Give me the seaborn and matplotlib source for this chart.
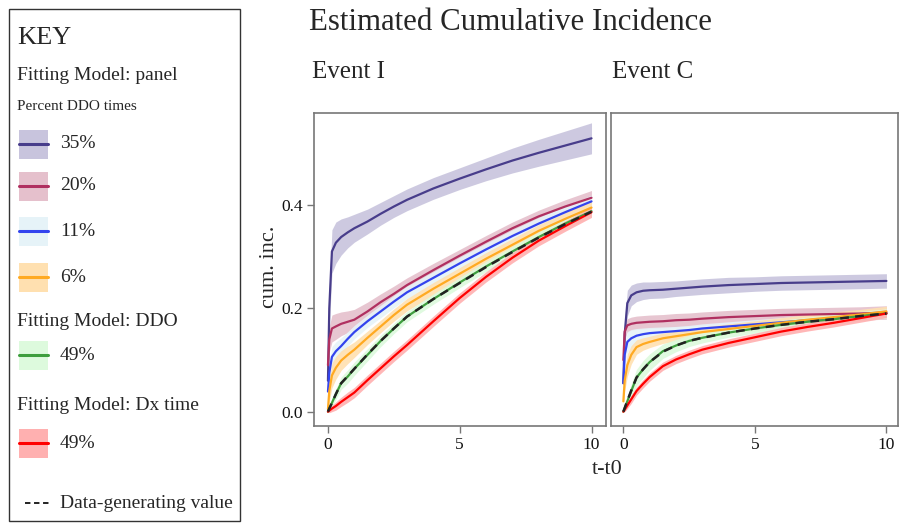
import numpy as np
import pandas as pd
import matplotlib
matplotlib.use("Agg")
import matplotlib.pyplot as plt
import seaborn as sns
from matplotlib.patches import Rectangle

# ---------------- data ----------------
t = [0, 0.05, 0.15, 0.3, 0.5, 0.75, 1, 1.5, 2, 2.5, 3, 4, 5, 6, 7, 8, 9, 10]

series_names = ["35%", "20%", "11%", "6%", "DDO 49%", "Dx 49%"]

# Event I
I_p35 = [0.06, 0.20, 0.31, 0.327, 0.338, 0.347, 0.355, 0.368, 0.383, 0.397, 0.41, 0.432, 0.451, 0.469, 0.486, 0.501, 0.515, 0.529]
I_p35_hw = [0.03, 0.04, 0.042, 0.04, 0.035, 0.03, 0.027, 0.024, 0.022, 0.021, 0.021, 0.021, 0.021, 0.022, 0.024, 0.026, 0.028, 0.03]
I_p20 = [0.09, 0.14, 0.161, 0.165, 0.17, 0.174, 0.178, 0.194, 0.212, 0.228, 0.245, 0.274, 0.302, 0.329, 0.355, 0.378, 0.397, 0.414]
I_p20_hw = [0.02, 0.025, 0.026, 0.025, 0.023, 0.021, 0.02, 0.018, 0.016, 0.015, 0.014, 0.013, 0.012, 0.012, 0.012, 0.012, 0.013, 0.014]
I_p11 = [0.039, 0.075, 0.106, 0.117, 0.127, 0.141, 0.154, 0.175, 0.194, 0.213, 0.231, 0.259, 0.287, 0.314, 0.34, 0.364, 0.386, 0.407]
I_p11_hw = [0.015, 0.02, 0.02, 0.018, 0.016, 0.014, 0.013, 0.012, 0.012, 0.012, 0.012, 0.012, 0.012, 0.012, 0.012, 0.012, 0.012, 0.012]
I_p6 = [0.005, 0.04, 0.07, 0.085, 0.099, 0.11, 0.12, 0.143, 0.165, 0.187, 0.207, 0.238, 0.267, 0.296, 0.323, 0.35, 0.373, 0.395]
I_p6_hw = [0.008, 0.02, 0.024, 0.022, 0.019, 0.017, 0.015, 0.013, 0.012, 0.012, 0.012, 0.012, 0.012, 0.012, 0.012, 0.012, 0.012, 0.013]
I_ddo = [0, 0.006, 0.017, 0.034, 0.055, 0.068, 0.083, 0.11, 0.137, 0.161, 0.184, 0.218, 0.25, 0.281, 0.31, 0.338, 0.364, 0.388]
I_ddo_hw = [0, 0.005, 0.008, 0.01, 0.012, 0.013, 0.013, 0.012, 0.011, 0.01, 0.01, 0.01, 0.01, 0.01, 0.01, 0.01, 0.01, 0.01]
I_dx = [0, 0.002, 0.006, 0.011, 0.019, 0.028, 0.037, 0.061, 0.084, 0.107, 0.129, 0.175, 0.22, 0.261, 0.298, 0.331, 0.359, 0.386]
I_dx_hw = [0, 0.004, 0.006, 0.008, 0.009, 0.01, 0.01, 0.01, 0.01, 0.01, 0.01, 0.01, 0.01, 0.01, 0.01, 0.01, 0.01, 0.01]
I_truth = [0, 0.006, 0.017, 0.034, 0.055, 0.069, 0.083, 0.111, 0.137, 0.161, 0.184, 0.218, 0.249, 0.28, 0.309, 0.337, 0.363, 0.387]

# Event C
C_p35 = [0.055, 0.15, 0.21, 0.225, 0.231, 0.234, 0.235, 0.236, 0.238, 0.24, 0.242, 0.245, 0.247, 0.249, 0.25, 0.251, 0.252, 0.253]
C_p35_hw = [0.03, 0.03, 0.025, 0.02, 0.018, 0.017, 0.016, 0.016, 0.015, 0.015, 0.015, 0.015, 0.014, 0.014, 0.014, 0.014, 0.014, 0.014]
C_p20 = [0.1, 0.155, 0.167, 0.17, 0.172, 0.173, 0.174, 0.175, 0.177, 0.178, 0.18, 0.183, 0.185, 0.187, 0.188, 0.189, 0.19, 0.192]
C_p20_hw = [0.012, 0.014, 0.013, 0.013, 0.013, 0.013, 0.013, 0.013, 0.013, 0.013, 0.013, 0.013, 0.013, 0.013, 0.013, 0.013, 0.013, 0.013]
C_p11 = [0.055, 0.11, 0.135, 0.142, 0.147, 0.15, 0.152, 0.154, 0.156, 0.158, 0.161, 0.165, 0.169, 0.173, 0.177, 0.181, 0.186, 0.19]
C_p11_hw = [0.02, 0.02, 0.02, 0.017, 0.014, 0.012, 0.011, 0.01, 0.009, 0.009, 0.009, 0.009, 0.009, 0.009, 0.009, 0.009, 0.009, 0.009]
C_p6 = [0.02, 0.06, 0.09, 0.11, 0.125, 0.131, 0.135, 0.142, 0.146, 0.15, 0.154, 0.16, 0.166, 0.172, 0.178, 0.183, 0.188, 0.194]
C_p6_hw = [0.01, 0.02, 0.022, 0.018, 0.014, 0.012, 0.011, 0.01, 0.01, 0.01, 0.01, 0.01, 0.01, 0.01, 0.01, 0.01, 0.01, 0.01]
C_ddo = [0, 0.007, 0.02, 0.04, 0.066, 0.082, 0.096, 0.117, 0.128, 0.137, 0.143, 0.153, 0.161, 0.168, 0.174, 0.179, 0.185, 0.19]
C_ddo_hw = [0, 0.006, 0.01, 0.014, 0.016, 0.017, 0.016, 0.014, 0.012, 0.011, 0.01, 0.009, 0.009, 0.009, 0.009, 0.009, 0.009, 0.009]
C_dx = [0, 0.004, 0.012, 0.024, 0.04, 0.054, 0.067, 0.088, 0.101, 0.111, 0.12, 0.133, 0.144, 0.155, 0.164, 0.172, 0.181, 0.19]
C_dx_hw = [0, 0.004, 0.006, 0.008, 0.008, 0.008, 0.008, 0.008, 0.008, 0.008, 0.008, 0.008, 0.008, 0.008, 0.008, 0.008, 0.008, 0.008]
C_truth = [0, 0.007, 0.021, 0.041, 0.066, 0.082, 0.096, 0.116, 0.128, 0.137, 0.143, 0.153, 0.161, 0.168, 0.174, 0.179, 0.185, 0.19]

x_ticks = [0, 5, 10]
y_ticks = [0.0, 0.2, 0.4]
y_ticklabels = ["0.0", "0.2", "0.4"]

line_colors = ["#483D8B", "#B03060", "#3344EE", "#FFAA22", "#3E9E3E", "#FF0000"]
band_colors = ["#C8C4DD", "#E5C0CC", "#E6F3F8", "#FFE0B0", "#DDFADD", "#FFB0B0"]

# ---------------- plotting ----------------
sns.set_theme(style="white")
plt.rcParams["font.family"] = ["Liberation Serif", "DejaVu Serif"]

W, H = 899, 523
fig = plt.figure(figsize=(W / 100, H / 100), dpi=100)


def box(x0, y0, x1, y1):
    return [x0 / W, 1 - y1 / H, (x1 - x0) / W, (y1 - y0) / H]


axI = fig.add_axes(box(314, 113, 606, 426))
axC = fig.add_axes(box(611, 113, 898, 426))

panels = [
    (axI, [I_p35, I_p20, I_p11, I_p6, I_ddo, I_dx],
     [I_p35_hw, I_p20_hw, I_p11_hw, I_p6_hw, I_ddo_hw, I_dx_hw], I_truth, (-0.53, 10.55)),
    (axC, [C_p35, C_p20, C_p11, C_p6, C_ddo, C_dx],
     [C_p35_hw, C_p20_hw, C_p11_hw, C_p6_hw, C_ddo_hw, C_dx_hw], C_truth, (-0.47, 10.44)),
]

tt = np.array(t)
for ax, means, hws, truth, xl in panels:
    for m, hw, bc in zip(means, hws, band_colors):
        m = np.array(m); hw = np.array(hw)
        ax.fill_between(tt, m - hw, m + hw, color=bc, alpha=0.9, lw=0, zorder=1)
    for name, m, lc in zip(series_names, means, line_colors):
        df = pd.DataFrame({"t": t, "v": m})
        sns.lineplot(data=df, x="t", y="v", ax=ax, color=lc, lw=1.6, zorder=3,
                     estimator=None, sort=False)
    dft = pd.DataFrame({"t": t, "v": truth})
    sns.lineplot(data=dft, x="t", y="v", ax=ax, color="#222222", lw=1.8, zorder=4,
                 estimator=None, sort=False, linestyle=(0, (3.5, 2.5)))
    ax.set_xlim(*xl)
    ax.set_ylim(-0.0277, 0.578)
    ax.set_xlabel("")
    ax.set_ylabel("")
    ax.set_xticks(x_ticks)
    ax.set_xticklabels([str(v) for v in x_ticks], fontsize=12.5)
    for s in ax.spines.values():
        s.set_color("#777777")
        s.set_linewidth(1.2)
    ax.tick_params(axis="both", direction="out", length=5, width=1, color="#777777",
                   labelsize=12.5, labelcolor="#111111", pad=3, bottom=True, left=True)

axI.set_yticks(y_ticks)
axI.set_yticklabels(y_ticklabels, fontsize=12.5)
axC.set_yticks([])

fig.text(270 / W, 1 - 267 / H, "cum. inc.", rotation=90, ha="center", va="center", fontsize=16)
fig.text(607 / W, 1 - 470 / H, "t-t0", ha="center", va="center", fontsize=16)
fig.text(309 / W, 1 - 22 / H, "Estimated Cumulative Incidence", ha="left", va="center", fontsize=22.2)
fig.text(312 / W, 1 - 72 / H, "Event I", ha="left", va="center", fontsize=18)
fig.text(612 / W, 1 - 72 / H, "Event C", ha="left", va="center", fontsize=18)

# ---------------- key ----------------
kax = fig.add_axes([0, 0, 1, 1], zorder=-1)
kax.set_xlim(0, W)
kax.set_ylim(H, 0)
kax.axis("off")
kax.add_patch(Rectangle((8.5, 8.5), 231, 512, fill=False, ec="#333333", lw=1.0))
kax.text(17, 38, "KEY", fontsize=19, va="center", ha="left")
kax.text(17, 76, "Fitting Model: panel", fontsize=14, va="center", ha="left")
kax.text(17, 106, "Percent DDO times", fontsize=11, va="center", ha="left")
kax.text(17, 322, "Fitting Model: DDO", fontsize=14, va="center", ha="left")
kax.text(17, 405, "Fitting Model: Dx time", fontsize=14, va="center", ha="left")

key_y = [144, 186, 231, 277, 355, 443]
key_labels = ["35%", "20%", "11%", "6%", "49%", "49%"]
for yc, lab, lc, bc in zip(key_y, key_labels, line_colors, band_colors):
    kax.add_patch(Rectangle((19, yc - 14.5), 29, 29, color=bc, lw=0))
    kax.plot([19, 48], [yc, yc], color=lc, lw=2.2)
    kax.text(60, yc, lab, fontsize=14, va="center", ha="left")
kax.plot([25, 52], [503, 503], color="#111111", lw=1.3, linestyle=(0, (3, 2)))
kax.text(60, 503, "Data-generating value", fontsize=14, va="center", ha="left")

fig.savefig("out.png", dpi=100)
